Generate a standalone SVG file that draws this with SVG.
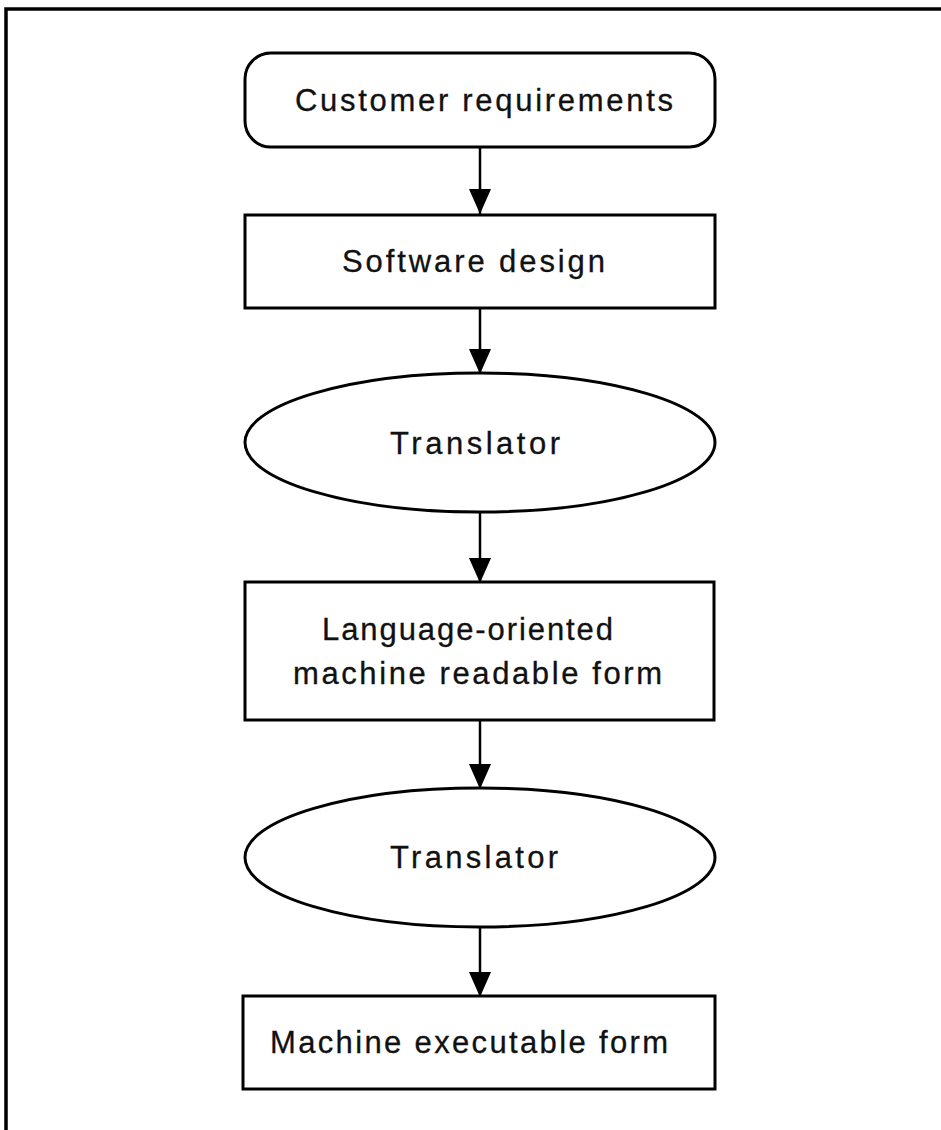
<svg xmlns="http://www.w3.org/2000/svg" width="941" height="1130" viewBox="0 0 941 1130">
<style>
.shape{fill:#fff;stroke:#000;stroke-width:3}
.frame{fill:none;stroke:#000;stroke-width:3.5}
.conn{stroke:#000;stroke-width:2.5;fill:none}
.lbl{font-family:"Liberation Sans",Arial,Helvetica,sans-serif;font-size:31px;fill:#111;stroke:#111;stroke-width:0.3}
</style>
<defs>
<marker id="arr" viewBox="0 0 25 22" refX="25" refY="11" markerWidth="25" markerHeight="22" markerUnits="userSpaceOnUse" orient="auto">
<path d="M0,0 L25,11 L0,22 Z" fill="#000"/>
</marker>
</defs>
<rect width="941" height="1130" fill="#fff"/>
<path class="frame" d="M6,1130 L6,9 L941,9"/>
<g id="connectors">
<line class="conn" x1="480" y1="147" x2="480" y2="214" marker-end="url(#arr)"/>
<line class="conn" x1="480" y1="308" x2="480" y2="374" marker-end="url(#arr)"/>
<line class="conn" x1="480" y1="512" x2="480" y2="583" marker-end="url(#arr)"/>
<line class="conn" x1="480" y1="720" x2="480" y2="789" marker-end="url(#arr)"/>
<line class="conn" x1="480" y1="927" x2="480" y2="997" marker-end="url(#arr)"/>
</g>
<g id="customer-requirements">
<rect class="shape" x="245" y="53" width="470" height="94" rx="26" ry="26"/>
<text class="lbl" x="295" y="111" textLength="378" lengthAdjust="spacing">Customer  requirements</text>
</g>
<g id="software-design">
<rect class="shape" x="245" y="215" width="470" height="93"/>
<text class="lbl" x="342" y="272" textLength="263" lengthAdjust="spacing">Software  design</text>
</g>
<g id="translator-1">
<ellipse class="shape" cx="480" cy="442.5" rx="235" ry="69.5"/>
<text class="lbl" x="390" y="454" textLength="170" lengthAdjust="spacing">Translator</text>
</g>
<g id="language-oriented">
<rect class="shape" x="245" y="582" width="469" height="138"/>
<text class="lbl" x="322" y="640" textLength="291" lengthAdjust="spacing">Language-oriented</text>
<text class="lbl" x="293" y="684" textLength="369" lengthAdjust="spacing">machine  readable  form</text>
</g>
<g id="translator-2">
<ellipse class="shape" cx="480" cy="857.5" rx="235" ry="69.5"/>
<text class="lbl" x="390" y="868" textLength="168" lengthAdjust="spacing">Translator</text>
</g>
<g id="machine-executable">
<rect class="shape" x="243" y="996" width="472" height="93"/>
<text class="lbl" x="270" y="1053" textLength="398" lengthAdjust="spacing">Machine  executable  form</text>
</g>
</svg>
